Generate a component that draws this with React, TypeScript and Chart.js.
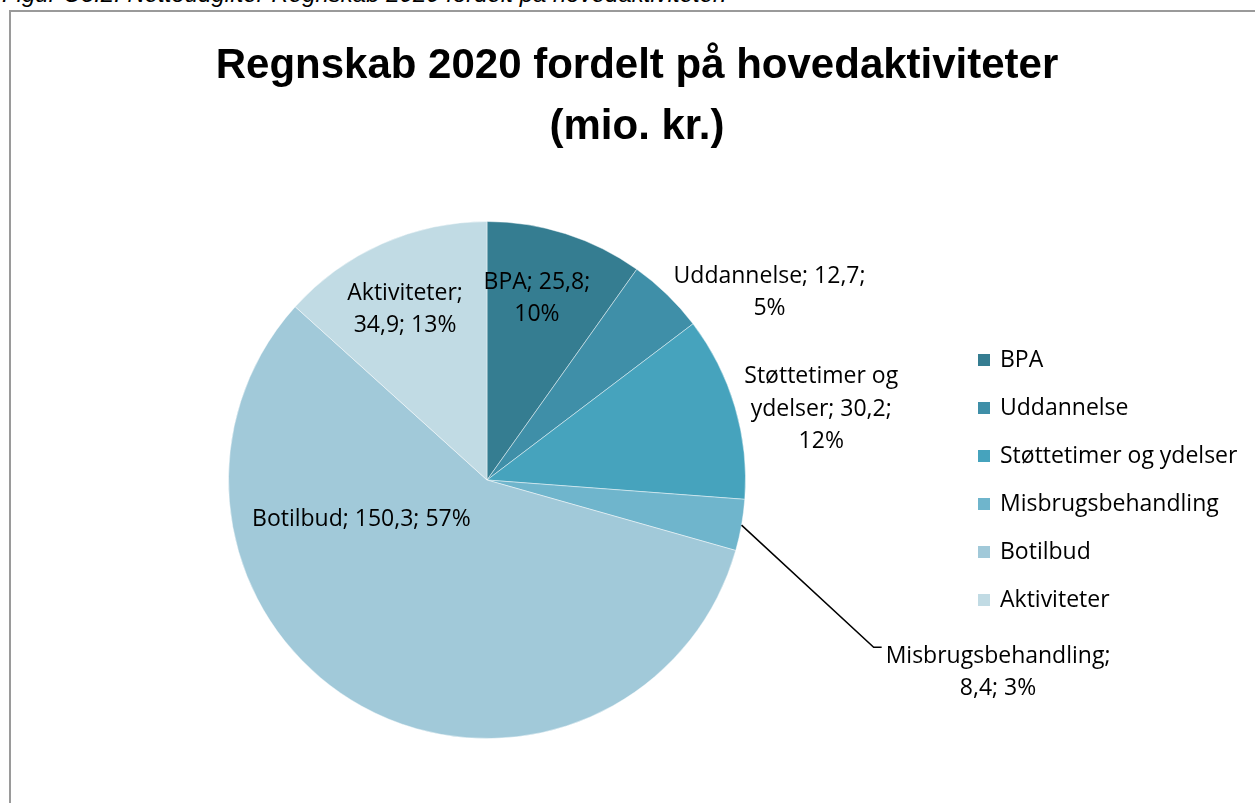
import React, { useEffect, useRef } from "react";
import { Chart, registerables } from "chart.js";

Chart.register(...registerables);

const categories = ["BPA", "Uddannelse", "Støttetimer og ydelser", "Misbrugsbehandling", "Botilbud", "Aktiviteter"];
const values = [25.8, 12.7, 30.2, 8.4, 150.3, 34.9];
const colors = ["#357D91", "#3F8FA8", "#46A3BD", "#6FB5CC", "#A1C9D9", "#C1DBE4"];
const titleLines = ["Regnskab 2020 fordelt på hovedaktiviteter", "(mio. kr.)"];
const captionText = "Figur C3.2: Nettoudgifter Regnskab 2020 fordelt på hovedaktiviteter.";

// words per line for each data label
const labelWrap = [[2, 1], [2, 1], [2, 2, 1], [1, 2], [3], [1, 2]];
// label centre offsets in units of pie radius (layout only)
const labelOffsets = [
  [0.193, -0.703],
  [1.093, -0.726],
  [1.293, -0.274],
  [1.977, 0.745],
  [-0.486, 0.154],
  [-0.317, -0.66],
];
const leaderIndex = 3;

const LABEL_FONT = "23px 'Open Sans', 'Liberation Sans', sans-serif";
const TITLE_FONT = "bold 42px 'Liberation Sans', sans-serif";

function fmt(v: number) {
  return v.toFixed(1).replace(".", ",");
}

const overlay = {
  id: "overlay",
  afterDraw(chart: any) {
    const ctx = chart.ctx as CanvasRenderingContext2D;
    const meta = chart.getDatasetMeta(0);
    const total = values.reduce((a, b) => a + b, 0);
    ctx.save();
    // title
    ctx.fillStyle = "#000";
    ctx.font = TITLE_FONT;
    ctx.textAlign = "center";
    ctx.textBaseline = "alphabetic";
    ctx.fillText(titleLines[0], 637, 78);
    ctx.fillText(titleLines[1], 637, 139);

    // data labels
    ctx.font = LABEL_FONT;
    const lh = 32.5;
    meta.data.forEach((arc: any, i: number) => {
      const r = arc.outerRadius;
      const cx = arc.x + labelOffsets[i][0] * r;
      const cy = arc.y + labelOffsets[i][1] * r;
      const allWords: string[] = [];
      const catWords = (categories[i] + ";").split(" ");
      allWords.push(...catWords, fmt(values[i]) + ";", Math.round((values[i] / total) * 100) + "%");
      const lines: string[] = [];
      let k = 0;
      labelWrap[i].forEach((n) => {
        lines.push(allWords.slice(k, k + n).join(" "));
        k += n;
      });
      if (k < allWords.length) lines[lines.length - 1] += " " + allWords.slice(k).join(" ");
      ctx.fillStyle = "#000";
      ctx.textAlign = "center";
      ctx.textBaseline = "middle";
      const y0 = cy - ((lines.length - 1) * lh) / 2;
      lines.forEach((ln, j) => ctx.fillText(ln, cx, y0 + j * lh));

      if (i === leaderIndex) {
        const mid = (arc.startAngle + arc.endAngle) / 2;
        const sx = arc.x + Math.cos(mid) * r;
        const sy = arc.y + Math.sin(mid) * r;
        let maxW = 0;
        lines.forEach((ln) => (maxW = Math.max(maxW, ctx.measureText(ln).width)));
        const ex = cx - maxW / 2 - 4;
        const ey = y0 - 9;
        ctx.strokeStyle = "#000";
        ctx.lineWidth = 1.5;
        ctx.beginPath();
        ctx.moveTo(sx, sy);
        ctx.lineTo(ex - 8, ey);
        ctx.lineTo(ex, ey);
        ctx.stroke();
      }
    });

    // legend
    ctx.font = LABEL_FONT;
    ctx.textAlign = "left";
    ctx.textBaseline = "middle";
    categories.forEach((c, i) => {
      const y = 360 + i * 48;
      ctx.fillStyle = colors[i];
      ctx.fillRect(978, y - 6, 12, 12);
      ctx.fillStyle = "#000";
      ctx.fillText(c, 1000, y);
    });
    ctx.restore();
  },
};

export default function App() {
  const ref = useRef<HTMLCanvasElement>(null);
  useEffect(() => {
    document.body.style.margin = "0";
    const chart = new Chart(ref.current!, {
      type: "pie",
      data: {
        labels: categories,
        datasets: [
          {
            data: values,
            backgroundColor: colors,
            borderColor: "rgba(255,255,255,0.45)",
            borderWidth: 1,
          },
        ],
      },
      options: {
        animation: false,
        responsive: false,
        events: [],
        layout: { padding: { left: 228, top: 221, right: 509, bottom: 64 } },
        plugins: { legend: { display: false }, title: { display: false }, tooltip: { enabled: false } },
      },
      plugins: [overlay],
    });
    return () => chart.destroy();
  }, []);
  return (
    <div style={{ position: "absolute", left: 0, top: 0, width: 1255, height: 803, overflow: "hidden", background: "#fff" }}>
      <div
        style={{
          position: "absolute",
          left: 2,
          top: -18,
          font: "italic 24px 'Liberation Sans', sans-serif",
          lineHeight: "24px",
          whiteSpace: "nowrap",
          color: "#000",
        }}
      >
        {captionText}
      </div>
      <div
        style={{
          position: "absolute",
          left: 9,
          top: 10,
          width: 1400,
          height: 1000,
          borderTop: "2px solid #9a9a9a",
          borderLeft: "2px solid #9a9a9a",
        }}
      />
      <canvas ref={ref} width={1255} height={803} style={{ position: "absolute", left: 0, top: 0, width: 1255, height: 803 }} />
    </div>
  );
}
